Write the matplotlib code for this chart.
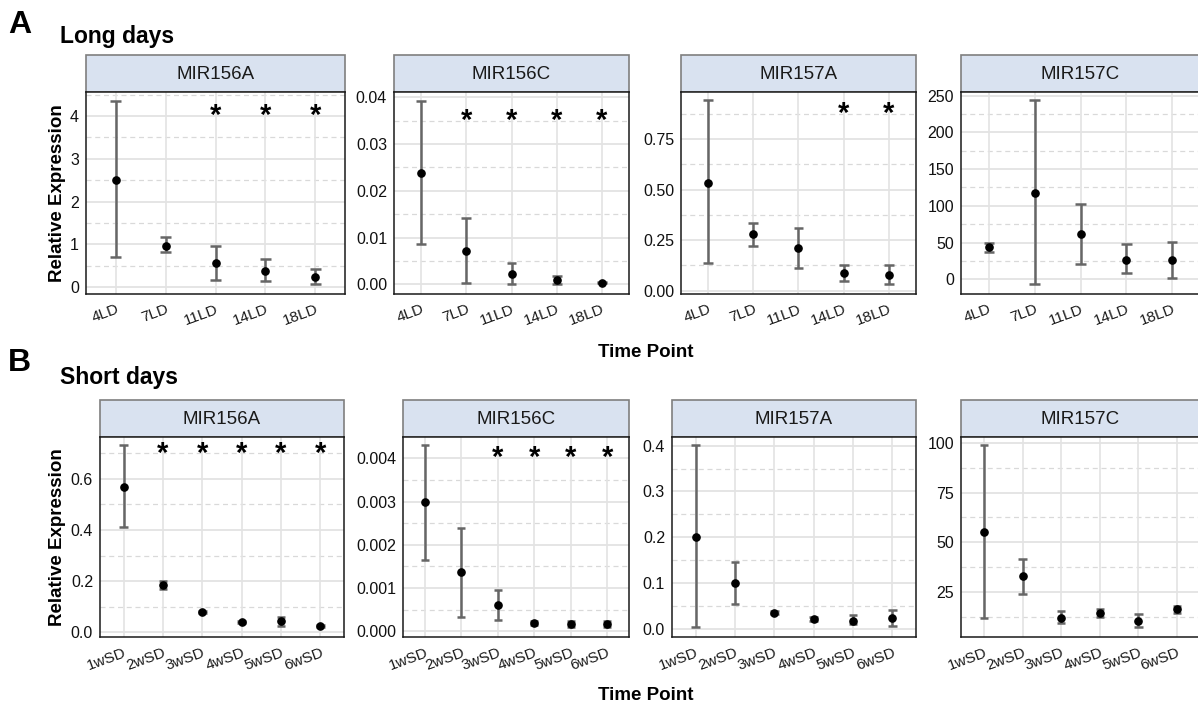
import matplotlib
matplotlib.use("Agg")
import matplotlib.pyplot as plt
from matplotlib.patches import Rectangle
from matplotlib.ticker import FixedLocator

plt.rcParams["font.family"] = ["Liberation Sans", "DejaVu Sans"]

# ---------------- data ----------------
genes = ["MIR156A", "MIR156C", "MIR157A", "MIR157C"]
ld_points = ["4LD", "7LD", "11LD", "14LD", "18LD"]
sd_points = ["1wSD", "2wSD", "3wSD", "4wSD", "5wSD", "6wSD"]

# Long days: mean, lower and upper error limits, significance flags
ld_mean_156a = [2.51, 0.97, 0.56, 0.37, 0.23]
ld_low_156a = [0.70, 0.81, 0.17, 0.13, 0.06]
ld_high_156a = [4.36, 1.16, 0.96, 0.65, 0.42]
ld_sig_156a = [0, 0, 1, 1, 1]

ld_mean_156c = [0.0239, 0.0072, 0.0022, 0.0009, 0.00035]
ld_low_156c = [0.0086, 0.0002, 0.0001, 0.0001, 0.0002]
ld_high_156c = [0.0393, 0.0141, 0.0045, 0.0017, 0.0005]
ld_sig_156c = [0, 1, 1, 1, 1]

ld_mean_157a = [0.535, 0.279, 0.210, 0.086, 0.076]
ld_low_157a = [0.137, 0.221, 0.112, 0.048, 0.031]
ld_high_157a = [0.942, 0.335, 0.310, 0.127, 0.127]
ld_sig_157a = [0, 0, 0, 1, 1]

ld_mean_157c = [43.6, 117.7, 61.4, 26.8, 25.9]
ld_low_157c = [37.3, -6.8, 21.4, 8.6, 1.4]
ld_high_157c = [50.0, 243.6, 102.3, 47.7, 50.9]
ld_sig_157c = [0, 0, 0, 0, 0]

# Short days
sd_mean_156a = [0.567, 0.183, 0.078, 0.039, 0.042, 0.025]
sd_low_156a = [0.410, 0.169, 0.073, 0.035, 0.025, 0.021]
sd_high_156a = [0.732, 0.201, 0.083, 0.043, 0.060, 0.029]
sd_sig_156a = [0, 1, 1, 1, 1, 1]

sd_mean_156c = [0.00298, 0.00137, 0.00061, 0.00020, 0.00016, 0.00017]
sd_low_156c = [0.00166, 0.00034, 0.00026, 0.00015, 0.00010, 0.00011]
sd_high_156c = [0.00431, 0.00240, 0.00096, 0.00025, 0.00024, 0.00024]
sd_sig_156c = [0, 0, 1, 1, 1, 1]

sd_mean_157a = [0.2015, 0.100, 0.0356, 0.0225, 0.018, 0.024]
sd_low_157a = [0.0036, 0.055, 0.0325, 0.018, 0.0116, 0.0058]
sd_high_157a = [0.401, 0.146, 0.0386, 0.027, 0.030, 0.042]
sd_sig_157a = [0, 0, 0, 0, 0, 0]

sd_mean_157c = [55.0, 32.9, 11.9, 14.6, 10.2, 16.3]
sd_low_157c = [12.1, 24.0, 9.2, 12.6, 7.55, 14.4]
sd_high_157c = [98.8, 41.8, 15.3, 16.6, 13.9, 18.1]
sd_sig_157c = [0, 0, 0, 0, 0, 0]

# y-axis ticks and their labels
ld_ticks = [[0, 1, 2, 3, 4], [0, 0.01, 0.02, 0.03, 0.04],
            [0, 0.25, 0.5, 0.75], [0, 50, 100, 150, 200, 250]]
ld_ticklabels = [["0", "1", "2", "3", "4"],
                 ["0.00", "0.01", "0.02", "0.03", "0.04"],
                 ["0.00", "0.25", "0.50", "0.75"],
                 ["0", "50", "100", "150", "200", "250"]]
sd_ticks = [[0, 0.2, 0.4, 0.6], [0, 0.001, 0.002, 0.003, 0.004],
            [0, 0.1, 0.2, 0.3, 0.4], [25, 50, 75, 100]]
sd_ticklabels = [["0.0", "0.2", "0.4", "0.6"],
                 ["0.000", "0.001", "0.002", "0.003", "0.004"],
                 ["0.0", "0.1", "0.2", "0.3", "0.4"],
                 ["25", "50", "75", "100"]]

# ---------------- layout (pixel boxes) ----------------
W, H = 1198, 707
DPI = 100
fig = plt.figure(figsize=(W / DPI, H / DPI), dpi=DPI)

rows = [
    dict(points=ld_points,
         means=[ld_mean_156a, ld_mean_156c, ld_mean_157a, ld_mean_157c],
         lows=[ld_low_156a, ld_low_156c, ld_low_157a, ld_low_157c],
         highs=[ld_high_156a, ld_high_156c, ld_high_157a, ld_high_157c],
         sigs=[ld_sig_156a, ld_sig_156c, ld_sig_157a, ld_sig_157c],
         ticks=ld_ticks, ticklabels=ld_ticklabels,
         ylims=[(-0.164, 4.5625), (-0.00207, 0.04114), (-0.0165, 0.983), (-20, 255)],
         star_y=[4.1, 0.0359, 0.895, None],
         xs=[(86, 345), (394, 629), (681, 916), (961, 1200)],
         strip=(55, 92), plot_bottom=294,
         letter="A", title="Long days", letter_y=10, title_y=43,
         xlabel_y=357),
    dict(points=sd_points,
         means=[sd_mean_156a, sd_mean_156c, sd_mean_157a, sd_mean_157c],
         lows=[sd_low_156a, sd_low_156c, sd_low_157a, sd_low_157c],
         highs=[sd_high_156a, sd_high_156c, sd_high_157a, sd_high_157c],
         sigs=[sd_sig_156a, sd_sig_156c, sd_sig_157a, sd_sig_157c],
         ticks=sd_ticks, ticklabels=sd_ticklabels,
         ylims=[(-0.0196, 0.7647), (-0.000131, 0.004493), (-0.01745, 0.4189), (2.35, 103.0)],
         star_y=[0.718, 0.00412, None, None],
         xs=[(100, 344), (403, 629), (672, 916), (961, 1200)],
         strip=(400, 437), plot_bottom=637,
         letter="B", title="Short days", letter_y=348, title_y=384,
         xlabel_y=700),
]

ERR_COLOR = "#666666"
GRID_MAJOR = "#e3e3e3"
GRID_MINOR = "#d9d9d9"
STRIP_FILL = "#d9e2f0"
STAR_FS = 21
TICK_FS = 11.5


def px_axes(left, top, right, bottom):
    return fig.add_axes([left / W, 1 - bottom / H, (right - left) / W, (bottom - top) / H])


for row in rows:
    s_top, s_bot = row["strip"]
    pb = row["plot_bottom"]
    n = len(row["points"])
    xpos = list(range(n))
    for i, gene in enumerate(genes):
        l, r = row["xs"][i]
        # strip header
        sax = px_axes(l, s_top, r, s_bot)
        sax.set_xlim(0, 1)
        sax.set_ylim(0, 1)
        sax.axis("off")
        sax.add_patch(Rectangle((0, 0), 1, 1, transform=sax.transAxes,
                                facecolor=STRIP_FILL, edgecolor="#7f7f7f",
                                linewidth=1.2, clip_on=False))
        sax.text(0.5, 0.48, gene, ha="center", va="center", fontsize=13.5,
                 color="#1a1a1a")

        ax = px_axes(l, s_bot, r, pb)
        ax.set_xlim(-0.6, n - 0.4)
        ax.set_ylim(*row["ylims"][i])
        ax.set_facecolor("white")

        ticks = row["ticks"][i]
        ax.yaxis.set_major_locator(FixedLocator(ticks))
        ax.set_yticklabels(row["ticklabels"][i])
        step = ticks[1] - ticks[0]
        lo, hi = row["ylims"][i]
        minors = []
        k = ticks[0] - step / 2
        while k < hi:
            if k > lo:
                minors.append(k)
            k += step
        for m in minors:
            ax.axhline(m, color=GRID_MINOR, linewidth=0.9, linestyle=(0, (4, 3)), zorder=0)
        for t in ticks:
            ax.axhline(t, color=GRID_MAJOR, linewidth=1.3, zorder=0)
        for x in xpos:
            ax.axvline(x, color=GRID_MAJOR, linewidth=1.2, zorder=0)

        ax.set_xticks(xpos)
        ax.set_xticklabels(row["points"], rotation=20, ha="right",
                           rotation_mode="anchor")
        ax.tick_params(axis="x", length=0, pad=6, labelsize=11, labelcolor="#1a1a1a")
        ax.tick_params(axis="y", length=0, pad=5, labelsize=TICK_FS, labelcolor="#111111")

        for sp in ax.spines.values():
            sp.set_color("#1a1a1a")
            sp.set_linewidth(1.1)

        means = row["means"][i]
        lows = row["lows"][i]
        highs = row["highs"][i]
        # error bars with caps (cap width about 0.2 category)
        ax.vlines(xpos, lows, highs, color=ERR_COLOR, linewidth=1.8, zorder=3)
        ax.hlines(lows, [x - 0.11 for x in xpos], [x + 0.11 for x in xpos],
                  color=ERR_COLOR, linewidth=1.8, zorder=3)
        ax.hlines(highs, [x - 0.11 for x in xpos], [x + 0.11 for x in xpos],
                  color=ERR_COLOR, linewidth=1.8, zorder=3)
        ax.plot(xpos, means, "o", color="black", markersize=5.2, zorder=4)

        sy = row["star_y"][i]
        if sy is not None:
            for x, flag in zip(xpos, row["sigs"][i]):
                if flag:
                    ax.annotate("*", xy=(x, sy), xytext=(0, -0.43 * STAR_FS),
                                textcoords="offset points", ha="center",
                                va="baseline", fontsize=STAR_FS,
                                fontweight="bold", color="black")

        if i == 0:
            fig.text(57 / W, 1 - ((s_bot + pb) / 2) / H, "Relative Expression",
                     rotation=90, fontsize=13.5, fontweight="bold",
                     ha="center", va="center")

    # panel letter, row title, shared x label
    fig.text(8 / W, 1 - row["letter_y"] / H, row["letter"], fontsize=23,
             fontweight="bold", ha="left", va="top")
    fig.text(60 / W, 1 - row["title_y"] / H, row["title"], fontsize=16.5,
             fontweight="bold", ha="left", va="baseline")
    fig.text(646 / W, 1 - row["xlabel_y"] / H, "Time Point", fontsize=13.5,
             fontweight="bold", ha="center", va="baseline")

fig.savefig("out.png", dpi=DPI, facecolor="white")
